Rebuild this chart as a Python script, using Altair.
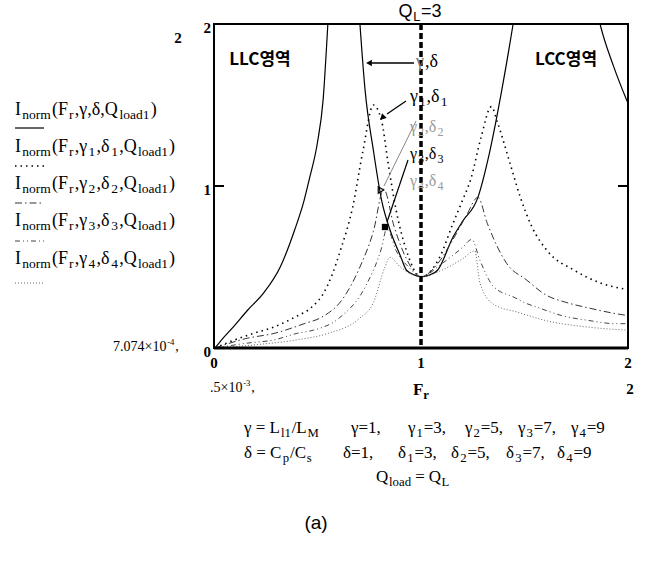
import altair as alt
import pandas as pd

SERIF = "Liberation Serif"
SANS = "Liberation Sans"
KR = "Noto Sans CJK KR"

# plot-area placement on the 653x562 canvas
OX, OY = 214, 24
PW, PH = 414, 324

# ---- normalized current curves, Q_L = 3 ----
# gamma = 1, delta = 1
fr_0 = [0.005, 0.03, 0.1, 0.16, 0.24, 0.32, 0.39, 0.435, 0.46, 0.5, 0.527, 0.55, 0.62,
        0.705, 0.73, 0.77, 0.81, 0.85, 0.9, 0.93, 0.97, 1.0, 1.04, 1.08, 1.155, 1.2,
        1.275, 1.33, 1.39, 1.445, 1.65, 1.865, 1.93, 2.0]
i_0 = [0.0, 0.04, 0.14, 0.23, 0.34, 0.5, 0.73, 0.91, 1.04, 1.27, 1.53, 2.0, 4.0,
       2.0, 1.59, 1.22, 0.91, 0.73, 0.57, 0.48, 0.45, 0.44, 0.45, 0.48, 0.685, 0.78,
       0.93, 1.2, 1.59, 2.0, 4.0, 2.0, 1.74, 1.51]
# gamma1 = 3, delta1 = 3
fr_1 = [0.005, 0.1, 0.19, 0.29, 0.39, 0.47, 0.53, 0.57, 0.61, 0.67, 0.72, 0.77, 0.81,
        0.84, 0.88, 0.93, 1.0, 1.09, 1.155, 1.2, 1.24, 1.29, 1.34, 1.37, 1.43, 1.48,
        1.535, 1.61, 1.74, 1.87, 2.0]
i_1 = [0.0, 0.05, 0.09, 0.13, 0.19, 0.25, 0.34, 0.45, 0.6, 0.87, 1.22, 1.5, 1.4,
       1.15, 0.85, 0.6, 0.44, 0.56, 0.77, 0.91, 1.04, 1.3, 1.49, 1.39, 1.14, 0.93,
       0.75, 0.6, 0.48, 0.4, 0.36]
# gamma2 = 5, delta2 = 5
fr_2 = [0.005, 0.16, 0.29, 0.435, 0.52, 0.62, 0.705, 0.77, 0.82, 0.87, 0.93, 1.0,
        1.08, 1.15, 1.22, 1.275, 1.32, 1.415, 1.51, 1.6, 1.705, 1.8, 1.95, 2.0]
i_2 = [0.0, 0.06, 0.09, 0.15, 0.19, 0.3, 0.5, 0.72, 0.98, 0.75, 0.55, 0.44,
       0.52, 0.66, 0.82, 0.93, 0.77, 0.52, 0.42, 0.33, 0.28, 0.25, 0.21, 0.2]
# gamma3 = 7, delta3 = 7
fr_3 = [0.005, 0.16, 0.29, 0.4, 0.48, 0.6, 0.74, 0.81, 0.835, 0.88, 0.94, 1.0,
        1.1, 1.2, 1.245, 1.285, 1.35, 1.455, 1.5, 1.565, 1.68, 1.81, 1.94, 2.0]
i_3 = [0.0, 0.03, 0.05, 0.09, 0.11, 0.18, 0.4, 0.62, 0.74, 0.6, 0.5, 0.44,
       0.52, 0.62, 0.67, 0.54, 0.38, 0.31, 0.28, 0.25, 0.2, 0.17, 0.15, 0.15]
# gamma4 = 9, delta4 = 9
fr_4 = [0.005, 0.2, 0.4, 0.55, 0.7, 0.77, 0.826, 0.85, 0.9, 1.0, 1.1, 1.2, 1.26,
        1.285, 1.35, 1.47, 1.6, 1.8, 2.0]
i_4 = [0.0, 0.02, 0.05, 0.09, 0.18, 0.28, 0.5, 0.56, 0.5, 0.44, 0.48, 0.55, 0.6,
       0.4, 0.27, 0.22, 0.17, 0.13, 0.11]

ql_fr = [1.0]          # Fr = 1 marker line (Q_L = 3)
axis_ticks = [0, 1, 2]
axis_tick_labels = ["0", "1", "2"]
inner_ticks = [1]

# trace styles: colour, dash, width
styles = [
    ("black", None, 1.2),
    ("black", [1.5, 4], 1.6),
    ("#333333", [7, 3, 1.5, 3], 1.0),
    ("#444444", [5, 3, 1, 3, 1, 3], 1.0),
    ("#666666", [1, 2], 1.0),
]

X_SCALE = alt.Scale(domain=[0, 2], nice=False, zero=False)
Y_SCALE = alt.Scale(domain=[0, 2], nice=False, zero=False)
X_ENC = alt.X("fr:Q", scale=X_SCALE, axis=None)
Y_ENC = alt.Y("current:Q", scale=Y_SCALE, axis=None)

# ---- text helpers (approximate glyph advances in em) ----
TW_SERIF = dict(zip("abcdefghijklmnopqrstuvwxyz",
                    [.444, .5, .444, .5, .444, .333, .5, .5, .278, .278, .5, .278, .778,
                     .5, .5, .5, .5, .333, .389, .278, .5, .5, .722, .5, .5, .444]))
TW_SERIF.update(dict(zip("ABCDEFGHIJKLMNOPQRSTUVWXYZ",
                         [.722, .667, .667, .722, .611, .556, .722, .722, .333, .389, .722,
                          .611, .889, .722, .722, .556, .722, .667, .556, .611, .722, .722,
                          .944, .722, .722, .611])))
TW_SERIF.update({",": .25, ".": .25, "=": .564, "/": .278, "(": .333, ")": .333,
                 " ": .25, "×": .564, "-": .333, "γ": .45, "δ": .5})
TW_SANS = {"Q": .778, "L": .556, "=": .584, "(": .333, ")": .333, "a": .556}


def tw(s, size, font):
    table = TW_SANS if font == SANS else TW_SERIF
    return sum(table.get(ch, 0.5 if font != SANS else 0.556) for ch in s) * size


def text_at(s, X, Y, size=14, font=SERIF, weight="normal", color="black",
            align="left"):
    return alt.Chart(pd.DataFrame({"t": [s]})).mark_text(
        font=font, fontSize=size, fontWeight=weight, color=color, align=align,
        baseline="middle").encode(text="t:N", x=alt.value(X - OX), y=alt.value(Y - OY))


def rich(parts, X, Y, size, font=SERIF, weight="normal", color="black",
         anchor="left", sub_scale=0.75, gap=0.8):
    specs, x = [], 0.0
    for p in parts:
        s, kind = p[0], p[1]
        col = p[2] if len(p) > 2 else color
        if kind == "n":
            sz, dy = size, 0
        elif kind == "sub":
            sz, dy = size * sub_scale, size * 0.3
        else:
            sz, dy = size * 0.62, -size * 0.38
        specs.append((s, x, dy, sz, col))
        x += tw(s, sz, font) + gap
    shift = -(x - gap) / 2 if anchor == "center" else 0
    return [text_at(s, X + shift + xx, Y + dy, sz, font, weight, col)
            for s, xx, dy, sz, col in specs]


def seg(X1, Y1, X2, Y2, width=1.0, color="black", dash=None):
    kw = dict(color=color, strokeWidth=width)
    if dash:
        kw["strokeDash"] = dash
    return alt.Chart(pd.DataFrame({"k": [0]})).mark_rule(**kw).encode(
        x=alt.value(X1 - OX), y=alt.value(Y1 - OY),
        x2=alt.value(X2 - OX), y2=alt.value(Y2 - OY))


def marker(X, Y, shape, size=40, angle=0, filled=True):
    kw = dict(shape=shape, size=size, filled=filled, color="black", opacity=1)
    if angle:
        kw["angle"] = angle
    if not filled:
        kw["strokeWidth"] = 1.2
    return alt.Chart(pd.DataFrame({"k": [0]})).mark_point(**kw).encode(
        x=alt.value(X - OX), y=alt.value(Y - OY))


layers = []

# curves
curve_data = [(fr_0, i_0), (fr_1, i_1), (fr_2, i_2), (fr_3, i_3), (fr_4, i_4)]
for (frs, vals), (col, dash, w) in zip(curve_data, styles):
    kw = dict(clip=True, color=col, strokeWidth=w, interpolate="monotone")
    if dash:
        kw["strokeDash"] = dash
    layers.append(alt.Chart(pd.DataFrame({"fr": frs, "current": vals}))
                  .mark_line(**kw).encode(x=X_ENC, y=Y_ENC))

# heavy dashed line at Fr = 1
layers.append(alt.Chart(pd.DataFrame({"fr": ql_fr})).mark_rule(
    color="black", strokeWidth=3.5, strokeDash=[6, 3]).encode(x=X_ENC))

# inward ticks at I = 1 on both vertical edges, heavier bottom edge
tick_df = pd.DataFrame({"current": inner_ticks})
layers.append(alt.Chart(tick_df).mark_rule(color="black", strokeWidth=2).encode(
    y=Y_ENC, x=alt.value(0), x2=alt.value(10)))
layers.append(alt.Chart(tick_df).mark_rule(color="black", strokeWidth=2).encode(
    y=Y_ENC, x=alt.value(PW - 10), x2=alt.value(PW)))
layers.append(alt.Chart(pd.DataFrame({"current": [0]})).mark_rule(
    color="black", strokeWidth=3).encode(y=Y_ENC, x=alt.value(0), x2=alt.value(PW)))

# tick labels placed through the shared scales
xlab = pd.DataFrame({"fr": axis_ticks, "lab": axis_tick_labels})
layers.append(alt.Chart(xlab).mark_text(
    font=SERIF, fontSize=15, fontWeight="bold", color="black", baseline="middle",
    align="center").encode(x=X_ENC, y=alt.value(PH + 15), text="lab:N"))
ylab = pd.DataFrame({"current": axis_ticks, "lab": axis_tick_labels})
layers.append(alt.Chart(ylab).mark_text(
    font=SERIF, fontSize=15, fontWeight="bold", color="black", baseline="middle",
    align="right", dy=4).encode(y=Y_ENC, x=alt.value(-3), text="lab:N"))

# label above the Fr = 1 line
layers += rich([("Q", "n"), ("L", "sub"), ("=3", "n")], 420, 12, 18, font=SANS,
               anchor="center", sub_scale=0.7)

# region labels
layers.append(text_at("LLC영역", 260, 60, 17, KR, "bold", align="center"))
layers.append(text_at("LCC영역", 566, 60, 17, KR, "bold", align="center"))

# trace annotations
layers.append(seg(414, 63, 372, 63, 1.3))
layers.append(marker(369, 63, "triangle-left", 45))
layers += rich([("γ", "n", "#777777"), (",δ", "n")], 416, 62, 18)

layers += rich([("γ", "n"), ("1", "sub"), (",δ", "n"), ("1", "sub")], 410, 97, 18)
layers.append(seg(406, 101, 387, 114, 1.3))
layers.append(marker(383, 117, "triangle", 45, angle=225))

layers += rich([("γ", "n"), ("2", "sub"), (",δ", "n"), ("2", "sub")], 410, 127, 16,
               color="#9a9a9a")
layers.append(seg(416, 121, 384, 186, 1.0, "#888888"))
layers.append(marker(381, 190, "triangle-right", 40, filled=False))

layers += rich([("γ", "n"), ("3", "sub"), (",δ", "n"), ("3", "sub")], 410, 154, 16)
layers.append(seg(408, 160, 387, 222, 1.2))
layers.append(marker(385, 227, "square", 40))

layers += rich([("γ", "n"), ("4", "sub"), (",δ", "n"), ("4", "sub")], 410, 181, 16,
               color="#9a9a9a")

# trace legend on the left
row_y = [110, 147, 184, 221, 259]
sample_y = [128, 166, 203, 241, 283]
for k, (ry, sy) in enumerate(zip(row_y, sample_y)):
    if k == 0:
        parts = [("I", "n"), ("norm", "sub"), ("(F", "n"), ("r", "sub"),
                 (",γ,δ,Q", "n"), ("load1", "sub"), (")", "n")]
    else:
        parts = [("I", "n"), ("norm", "sub"), ("(F", "n"), ("r", "sub"), (",γ", "n"),
                 (str(k), "sub"), (",δ", "n"), (str(k), "sub"), (",Q", "n"),
                 ("load1", "sub"), (")", "n")]
    layers += rich(parts, 15, ry, 18, gap=1.2)
    col, dash, w = styles[k]
    layers.append(seg(15, sy, 44, sy, max(w, 1.0), col, dash))

# axis limit read-outs
layers.append(text_at("2", 178, 38, 15, SERIF, "bold", align="center"))
layers += rich([("7.074×10", "n"), ("-4", "sup"), (",", "n")], 113, 347, 14)
layers += rich([(".5×10", "n"), ("-3", "sup"), (",", "n")], 210, 388, 14)
layers.append(text_at("2", 630, 389, 15, SERIF, "bold", align="center"))
layers += rich([("F", "n"), ("r", "sub")], 413, 390, 17, weight="bold")

# parameter block
layers += rich([("γ = L", "n"), ("l1", "sub"), ("/L", "n"), ("M", "sub")], 244, 428, 17)
layers.append(text_at("γ=1,", 351, 428, 17))
for k, (gx, val) in enumerate(zip([408, 465, 518, 571], [3, 5, 7, 9]), start=1):
    tail = "=%d," % val if k < 4 else "=%d" % val
    layers += rich([("γ", "n"), (str(k), "sub"), (tail, "n")], gx, 428, 17)

layers += rich([("δ = C", "n"), ("p", "sub"), ("/C", "n"), ("s", "sub")], 244, 453, 17)
layers.append(text_at("δ=1,", 343, 453, 17))
for k, (dx, val) in enumerate(zip([398, 451, 506, 557], [3, 5, 7, 9]), start=1):
    tail = "=%d," % val if k < 4 else "=%d" % val
    layers += rich([("δ", "n"), (str(k), "sub"), (tail, "n")], dx, 453, 17)

# Q_load = Q_L, written in three runs so the spacing around "=" stays even
q_x = 376
layers += rich([("Q", "n"), ("load", "sub")], q_x, 477, 17)
q_x += tw("Q", 17, SERIF) + tw("load", 17 * 0.75, SERIF) + 5
layers.append(text_at("=", q_x, 477, 17))
q_x += tw("=", 17, SERIF) + 4
layers += rich([("Q", "n"), ("L", "sub")], q_x, 477, 17, gap=0.3)
layers.append(text_at("(a)", 316, 523, 19, SANS, align="center"))

chart = alt.layer(*layers).properties(
    width=PW, height=PH,
    autosize=alt.AutoSizeParams(type="none"),
    padding={"left": OX, "top": OY, "right": 653 - OX - PW, "bottom": 562 - OY - PH},
    background="white",
).configure_view(stroke="black", strokeWidth=2)

chart.save("out.html", embed_options={"renderer": "svg", "actions": False})
